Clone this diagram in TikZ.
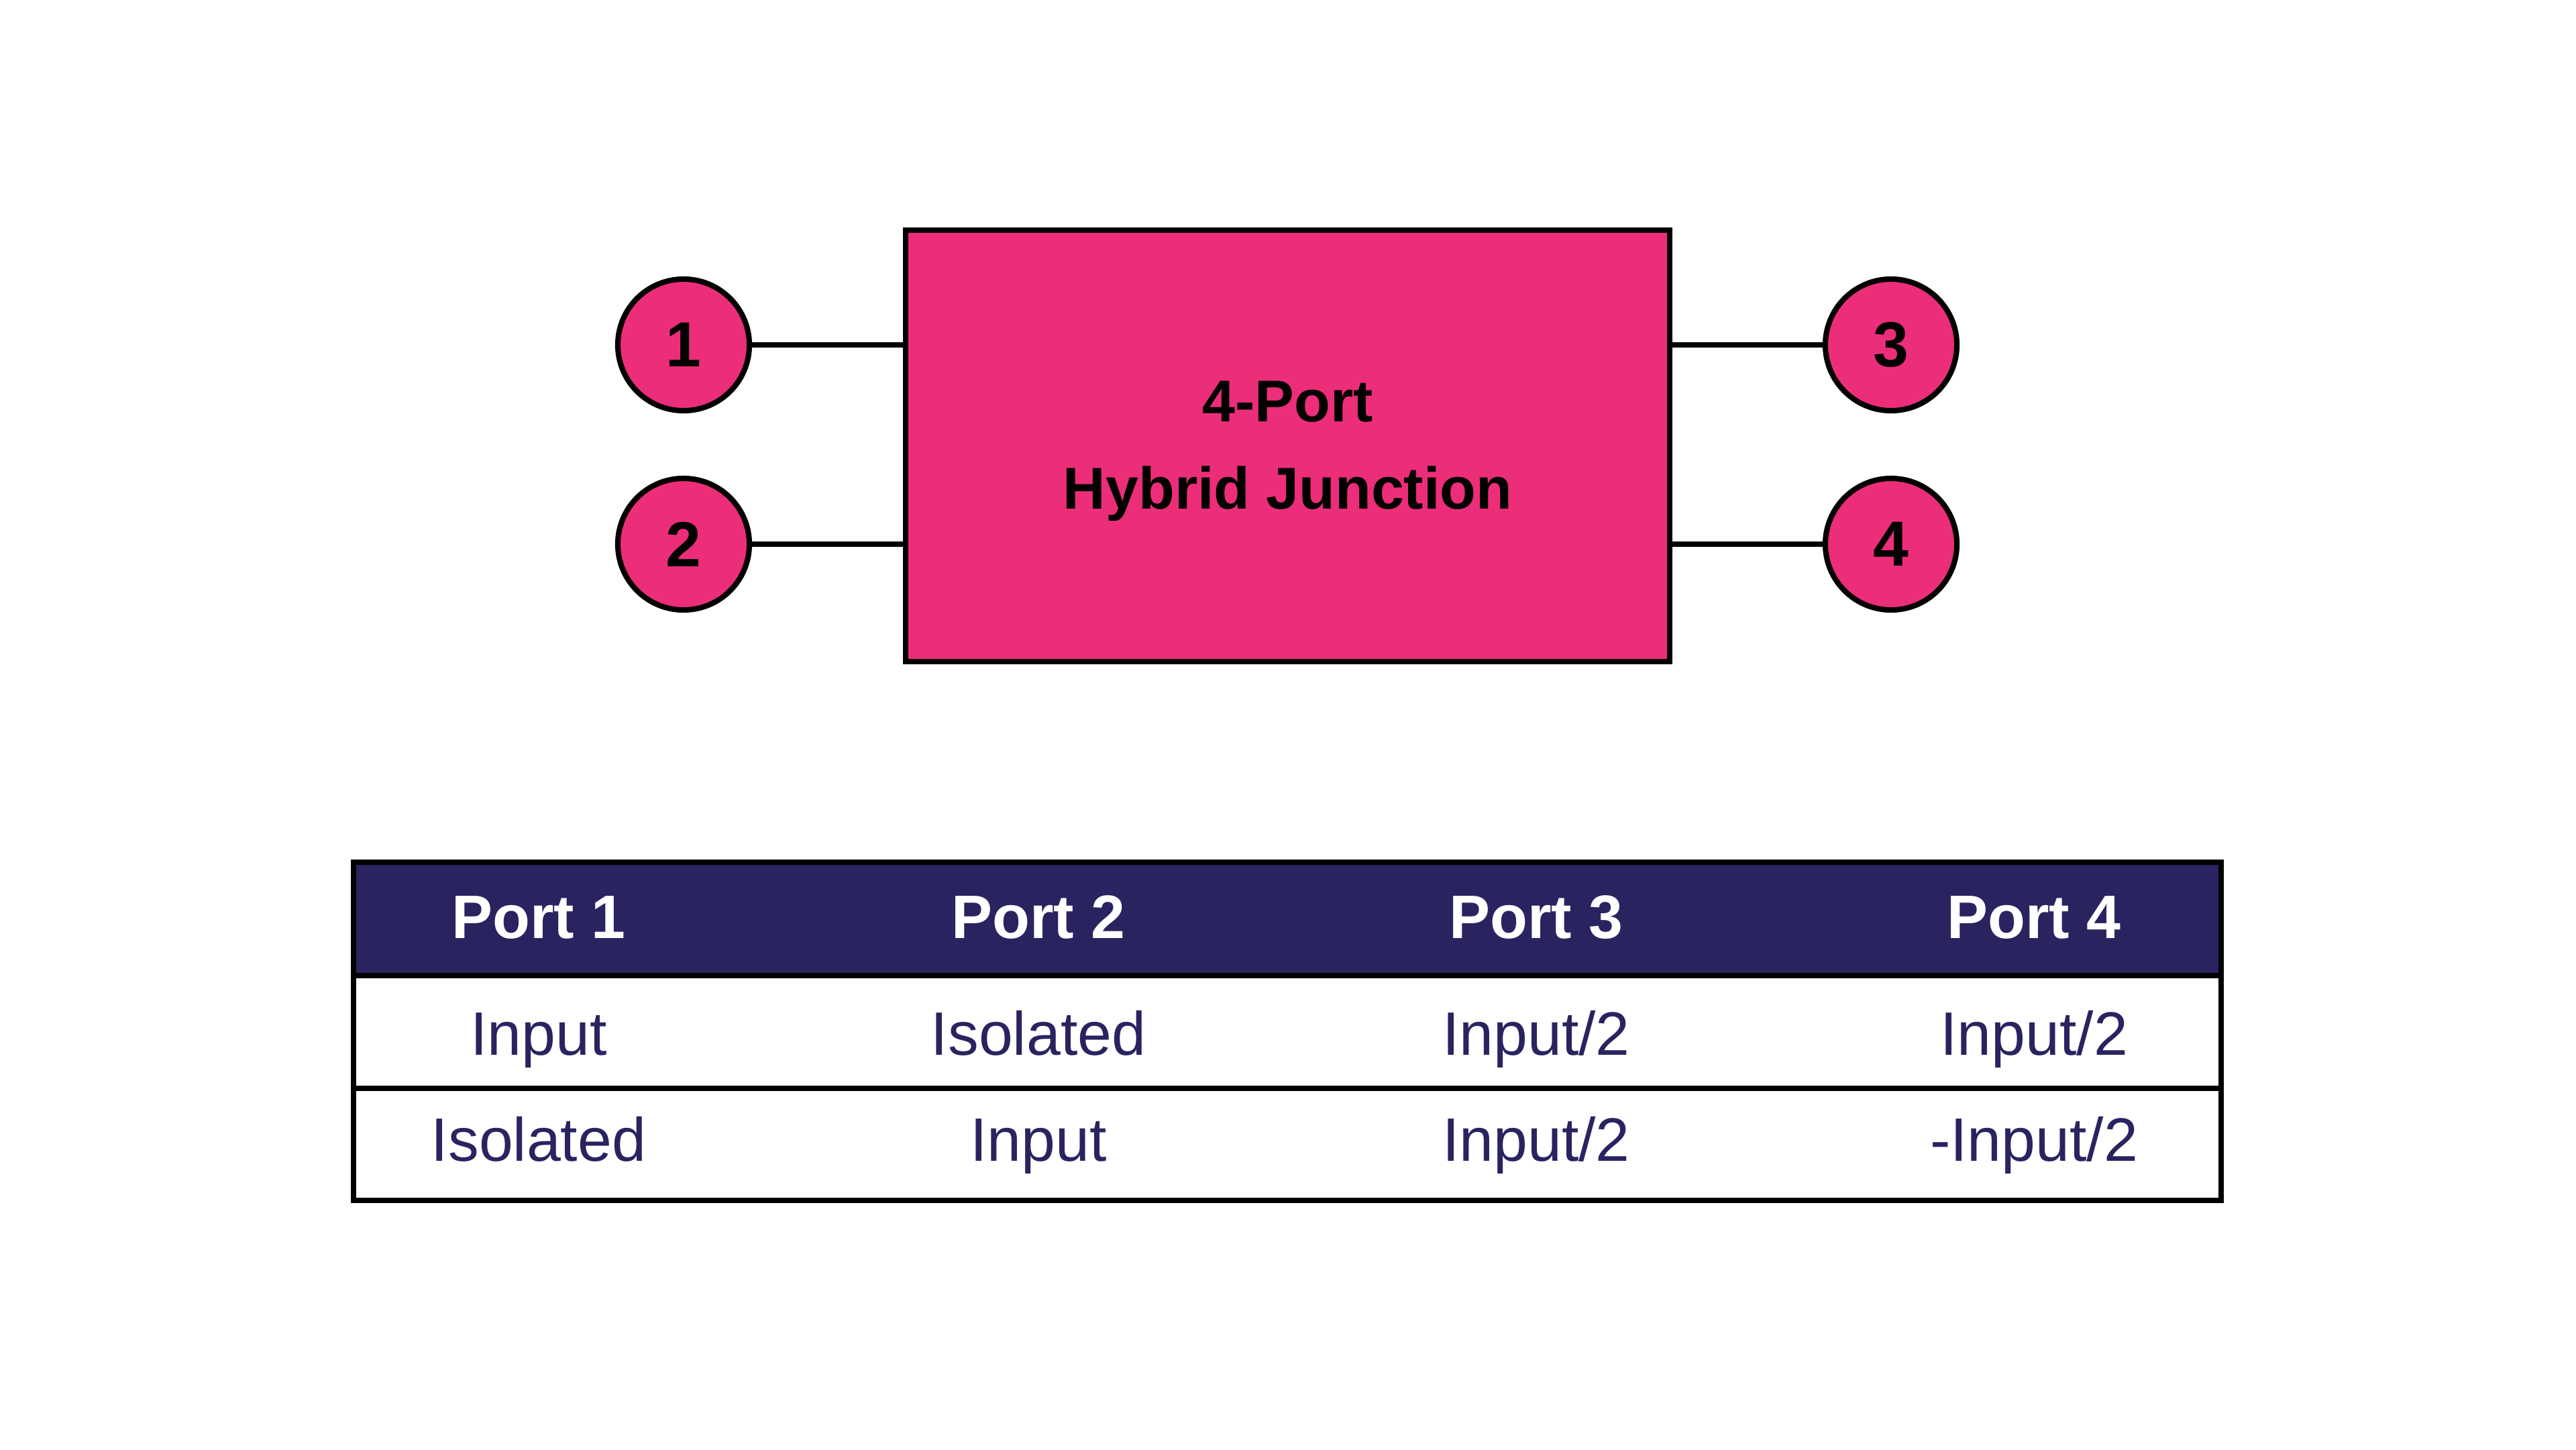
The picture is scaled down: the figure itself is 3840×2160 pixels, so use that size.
\documentclass[tikz,border=0pt]{standalone}
\usepackage{fontspec}
\setmainfont{Liberation Sans}
\definecolor{hybpink}{RGB}{236,45,122}
\definecolor{navy}{RGB}{41,36,96}
\tikzset{
  line/.style={line width=2.3pt, draw=black},
  port/.style={circle, line width=2.3pt, draw=black, fill=hybpink, minimum size=1.96cm, inner sep=0pt, font=\fontsize{27pt}{31pt}\selectfont\bfseries},
  hybbox/.style={rectangle, line width=2.3pt, draw=black, fill=hybpink, minimum width=11.39cm, minimum height=6.43cm, inner sep=0pt, align=center, font=\fontsize{25pt}{37pt}\selectfont\bfseries},
  head/.style={anchor=base, text=white, font=\fontsize{26pt}{31pt}\selectfont\bfseries},
  cell/.style={anchor=base, text=navy, font=\fontsize{26pt}{31pt}\selectfont},
}
\begin{document}
\begin{tikzpicture}[x=0.01cm, y=-0.01cm]
\useasboundingbox (0,0) rectangle (3840,2160);
% block
\node[hybbox] (hyb) at (1919.5,664.5) {};
\node[port] (p1) at (1019,514) {1};
\node[port] (p2) at (1019,811) {2};
\node[port] (p3) at (2819,514) {3};
\node[port] (p4) at (2819,811) {4};
\node[anchor=base, font=\fontsize{25pt}{37pt}\selectfont\bfseries] (t1) at (1919.5,628) {4-Port};
\node[anchor=base, font=\fontsize{25pt}{37pt}\selectfont\bfseries] (t2) at (1919.5,758) {Hybrid Junction};
\draw[line] (p1.east) -- (p1.east -| hyb.west);
\draw[line] (p2.east) -- (p2.east -| hyb.west);
\draw[line] (p3.west) -- (p3.west -| hyb.east);
\draw[line] (p4.west) -- (p4.west -| hyb.east);
% table
\fill[navy] (527,1285) rectangle (3311,1454);
\draw[line] (527,1454) -- (3311,1454);
\draw[line] (527,1622) -- (3311,1622);
\draw[line] (527,1285) rectangle (3311,1789);
\node[head] (h1) at (803,1398) {Port 1};
\node[head] (h2) at (1548,1398) {Port 2};
\node[head] (h3) at (2290,1398) {Port 3};
\node[head] (h4) at (3032,1398) {Port 4};
\node[cell] (a1) at (803,1572) {Input};
\node[cell] (a2) at (1548,1572) {Isolated};
\node[cell] (a3) at (2290,1572) {Input/2};
\node[cell] (a4) at (3032,1572) {Input/2};
\node[cell] (b1) at (803,1730) {Isolated};
\node[cell] (b2) at (1548,1730) {Input};
\node[cell] (b3) at (2290,1730) {Input/2};
\node[cell] (b4) at (3032,1730) {-Input/2};
\end{tikzpicture}
\end{document}
